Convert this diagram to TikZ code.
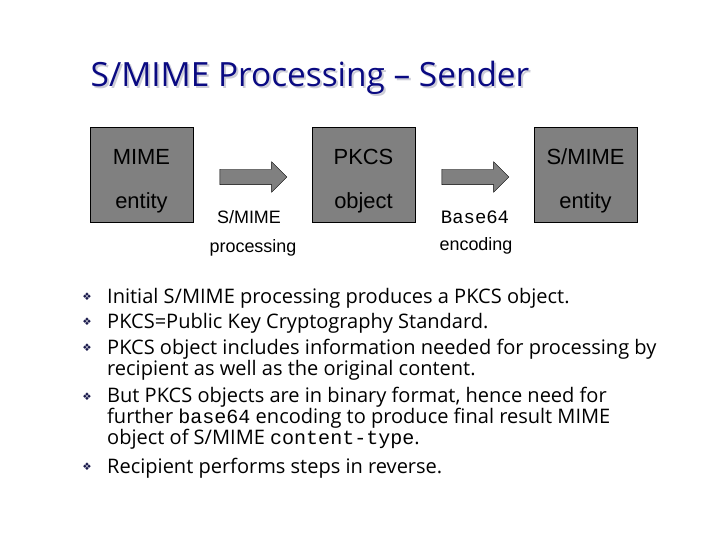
\documentclass[tikz,border=0pt]{standalone}
\usepackage{fontspec}
\setmainfont{Open Sans}
\newfontfamily\boxfont{Liberation Sans}
\newfontfamily\codefont{Liberation Mono}
\newfontfamily\symfont{DejaVu Sans}
\usetikzlibrary{positioning,shapes.arrows}
\definecolor{SmNavy}{RGB}{10,10,130}
\definecolor{SmShadow}{RGB}{205,205,215}
\definecolor{SmGray}{RGB}{128,128,128}
\definecolor{SmBullet}{RGB}{25,25,75}
\newcommand\boxstrut{\rule{0pt}{28bp}}
\tikzset{
  sm/box/.style={
    draw=black,
    thin,
    fill=SmGray,
    align=center,
    text=black,
    minimum width=103bp,
    minimum height=95bp,
    inner sep=0pt,
    font=\boxfont\fontsize{22}{44}\selectfont
  },
  sm/arrow/.style={
    single arrow,
    draw=black,
    thin,
    fill=SmGray,
    minimum height=67bp,
    minimum width=30bp,
    single arrow head extend=7.5bp,
    inner xsep=0pt,
    inner ysep=7.5bp
  },
  sm/label/.style={font=\boxfont\fontsize{18}{22}\selectfont, text=black},
  sm/code/.style={font=\codefont\fontsize{19}{22}\selectfont, text=black},
  sm/item/.style={anchor=base west, align=left, text=black, inner sep=0pt,
    font=\fontsize{20.1}{20.7}\selectfont},
  sm/bullet/.style={font=\symfont\fontsize{10.5}{12}\selectfont, text=SmBullet, inner sep=0pt},
  sm/title/.style={font=\fontsize{33.5}{40}\selectfont, text=SmNavy}
}

\begin{document}
\begin{tikzpicture}[x=1bp,y=-1bp]
  \useasboundingbox (0,0) rectangle (720,540);
  % title with its shadow
  \node[sm/title,text=SmShadow] (titleshadow) at (312,80) {S/MIME Processing – Sender};
  \node[sm/title] (title) at (310,78) {S/MIME Processing – Sender};
  % the three stages
  \node[sm/box] (mime) at (141.5,174.5) {\boxstrut MIME\\entity};
  \node[sm/box] (pkcs) at (363.5,174.5) {\boxstrut PKCS\\object};
  \node[sm/box] (smime) at (585.5,174.5) {\boxstrut S/MIME\\entity};
  \node[sm/arrow] (step1) at (249.5,177) {};
  \node[sm/arrow] (step2) at (471.5,177) {};
  \node[sm/label] (step1a) at (249,217) {S/MIME};
  \node[sm/label] (step1b) at (253,248) {processing};
  \node[sm/code] (step2a) at (475,217) {Base64};
  \node[sm/label] (step2b) at (476,246) {encoding};
  % bullet list (multi-line items sit on their last baseline)
  \foreach \y in {297,322,348,397,467}
    \node[sm/bullet] at (87,\y) {❖};
  \node[sm/item] (item1) at (107,303) {Initial S/MIME processing produces a PKCS object.};
  \node[sm/item] (item2) at (107,328) {PKCS=Public Key Cryptography Standard.};
  \node[sm/item] (item3) at (107,375) {PKCS object includes information needed for processing by\\recipient as well as the original content.};
  \node[sm/item] (item4) at (107,444) {But PKCS objects are in binary format, hence need for\\further {\codefont base64} encoding to produce final result MIME\\object of S/MIME {\codefont content-type}.};
  \node[sm/item] (item5) at (107,473) {Recipient performs steps in reverse.};
\end{tikzpicture}
\end{document}
